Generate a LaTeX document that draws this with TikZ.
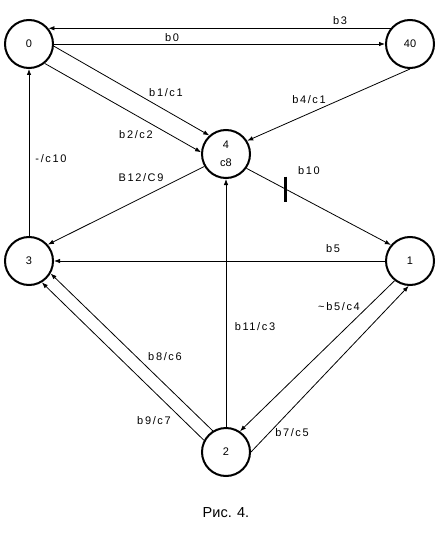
\documentclass[tikz,border=0pt]{standalone}
\usepackage{fontspec}
\setmainfont{Liberation Sans}
\newfontfamily\edgefont[LetterSpace=15]{Liberation Sans}
\usetikzlibrary{positioning,arrows.meta}

\begin{document}
\begin{tikzpicture}[
    x=1pt, y=-1pt,
    statenode/.style={circle, draw=black, fill=white, line width=2pt, minimum size=48pt, inner sep=0pt, outer sep=1pt, align=center, font=\fontsize{11}{18}\selectfont},
    edgelabel/.style={inner sep=0pt, font=\edgefont\fontsize{11}{12}\selectfont},
    arr/.style={-{Latex[length=6pt,width=4.5pt]}, line width=0.8pt}
    ]
    \useasboundingbox (0,0) rectangle (441,540);

    %States
    \node[statenode]        (s0)                        at (29,44)  {0};
    \node[statenode]        (s40)   [right=331pt of s0]             {40};
    \node[statenode]        (s3)    [below=167pt of s0]             {3};
    \node[statenode]        (s1)    [right=331pt of s3]             {1};
    \node[statenode]        (s4)                        at (226,154) {4\\c8};
    \node[statenode]        (s2)    [below=248pt of s4]             {2};

    %Caption
    \node[inner sep=0pt, font=\fontsize{14.5}{16}\selectfont] (caption) [below=30pt of s2] {Рис. 4.};

    %Lines
    \draw[arr]  (s40.141) -- (s0.39);
    \draw[arr]  (s0) -- (s40);
    \draw[arr]  (s0.-5) -- (s4.132);
    \draw[arr]  (s0.-51) -- (s4.176);
    \draw[arr]  (s40.south) -- (s4.32);
    \draw[arr]  (s4.210) -- (s3.41);
    \draw[arr]  (s3) -- (s0);
    \draw[arr]  (s4.-35) -- coordinate[pos=.27] (b10_tick) (s1.140);
    \draw[arr]  (s1) -- (s3);
    \draw[arr]  (s2) -- (s4);
    \draw[arr]  (s2.122) -- (s3.-30);
    \draw[arr]  (s2.152) -- (s3.-59);
    \draw[arr]  (s1.232) -- (s2.56);
    \draw[arr]  (s2.east) -- (s1.-93);

    %Tick on b10
    \draw[line width=3pt] ([yshift=12.5pt]b10_tick) -- ([yshift=-12.5pt]b10_tick);

    %Labels
    \node[edgelabel]    (lab_b3)    at (340,21)  {b3};
    \node[edgelabel]    (lab_b0)    at (172,38)  {b0};
    \node[edgelabel]    (lab_b1)    at (166,93)  {b1/c1};
    \node[edgelabel]    (lab_b4)    at (309,100) {b4/c1};
    \node[edgelabel]    (lab_b2)    at (136,135) {b2/c2};
    \node[edgelabel]    (lab_c10)   at (51,159)  {-/c10};
    \node[edgelabel]    (lab_b12)   at (141,178) {B12/C9};
    \node[edgelabel]    (lab_b10)   at (309,171) {b10};
    \node[edgelabel]    (lab_b5)    at (333,249) {b5};
    \node[edgelabel]    (lab_b11)   at (255,327) {b11/c3};
    \node[edgelabel]    (lab_nb5)   at (339,307) {\textasciitilde b5/c4};
    \node[edgelabel]    (lab_b8)    at (165,357) {b8/c6};
    \node[edgelabel]    (lab_b9)    at (154,421) {b9/c7};
    \node[edgelabel]    (lab_b7)    at (292,433) {b7/c5};

\end{tikzpicture}
\end{document}
